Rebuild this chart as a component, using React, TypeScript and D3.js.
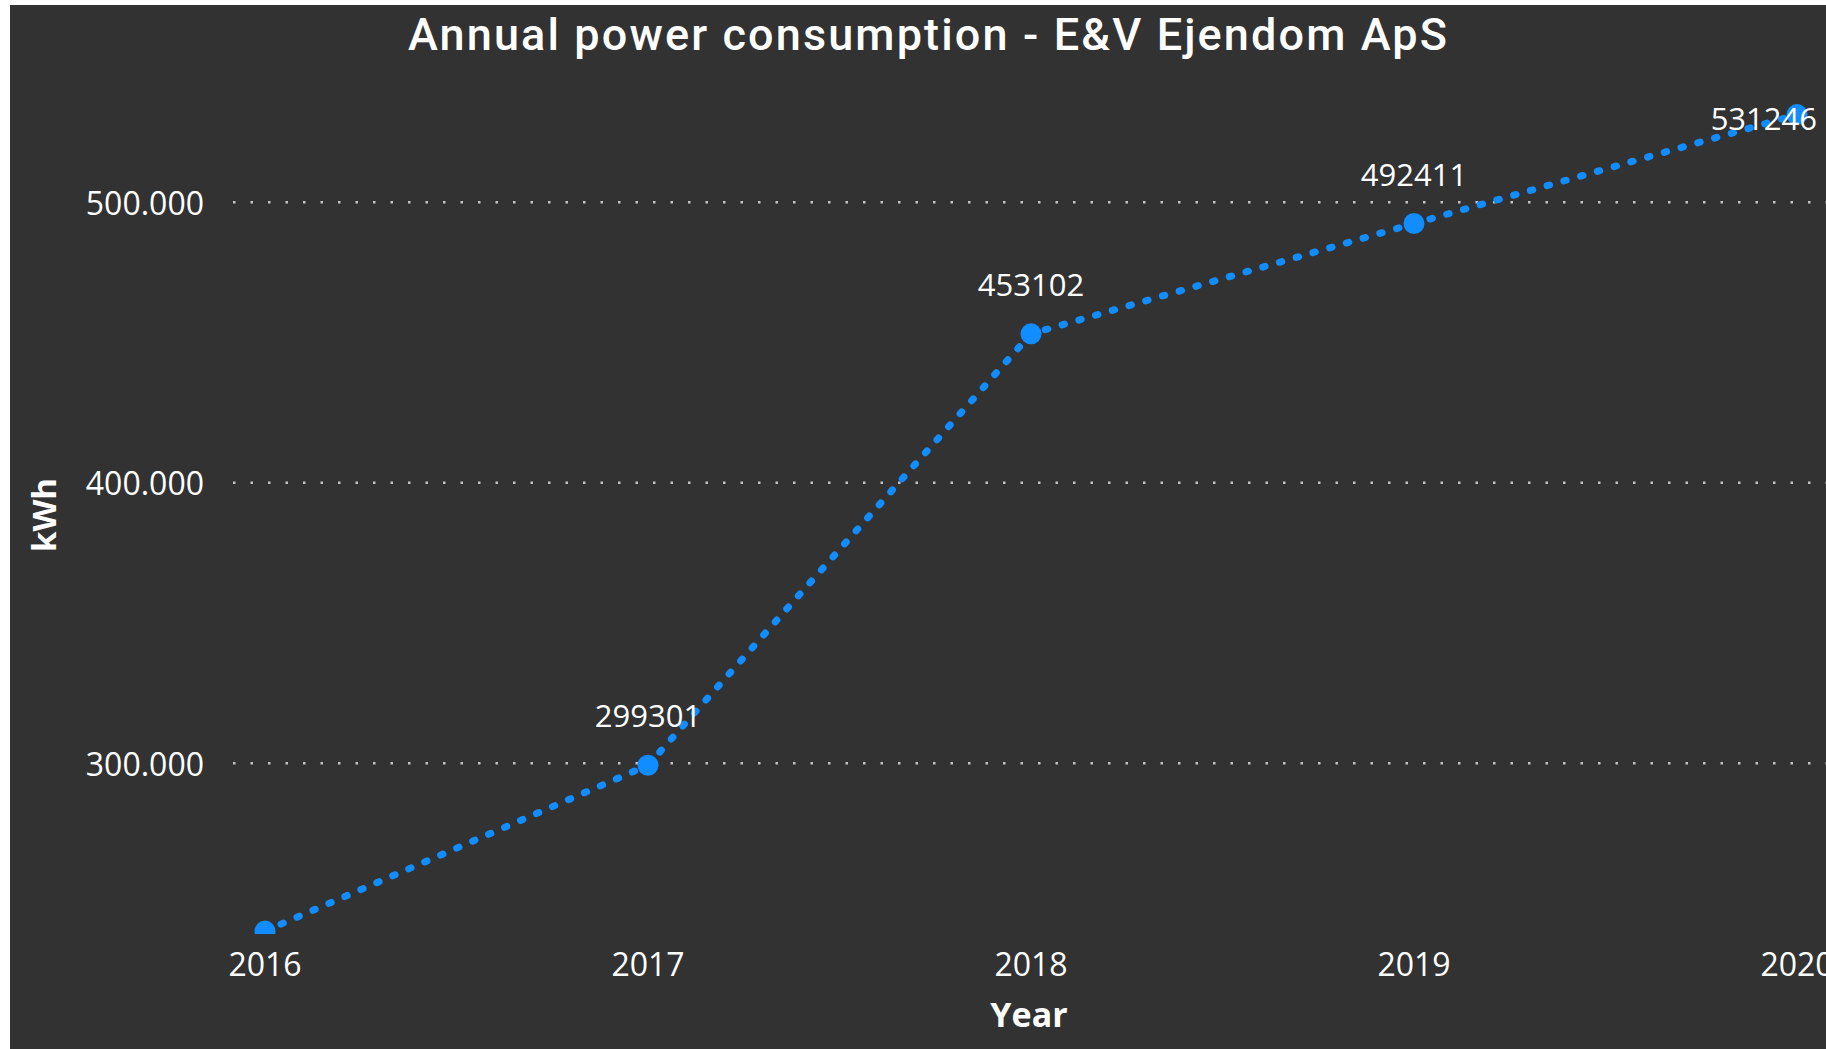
import React from "react";
import * as d3 from "d3";

// values
const years = ["2016", "2017", "2018", "2019", "2020"];
const consumption = [240200, 299301, 453102, 492411, 531246];
const yTicks = [300000, 400000, 500000];

const title = "Annual power consumption - E&V Ejendom ApS";
const xTitle = "Year";
const yTitle = "kWh";

const W = 1826;
const H = 1049;
const plot = { left: 233, right: 1826, top: 62, bottom: 934 };
const blue = "#118DFF";
const bg = "#323232";
const markerR = 10.5;

// danish style thousands separator
const fmt = d3.formatLocale({
  decimal: ",",
  thousands: ".",
  grouping: [3],
  currency: ["", " kr."],
}).format(",");

export default function App() {
  const xScale = d3.scalePoint<string>().domain(years).range([265, 1797]);
  const yScale = d3
    .scaleLinear()
    .domain([239150, 550000])
    .range([plot.bottom, plot.top]);

  const points = years.map((yr, i) => ({ yr, v: consumption[i] }));

  const line = d3
    .line<{ yr: string; v: number }>()
    .x((d) => xScale(d.yr) as number)
    .y((d) => yScale(d.v));

  return (
    <svg
      width={W}
      height={H}
      style={{ position: "absolute", left: 0, top: 0, display: "block" }}
    >
      <defs>
        <clipPath id="plotClip">
          <rect
            x={plot.left}
            y={plot.top}
            width={plot.right - plot.left}
            height={plot.bottom - plot.top}
          />
        </clipPath>
      </defs>
      <rect x={0} y={0} width={W} height={H} fill="#ffffff" />
      <rect x={10} y={5} width={W - 10} height={H - 5} fill={bg} />

      <text
        x={408}
        y={50}
        textLength={1039}
        lengthAdjust="spacing"
        style={{
          fontFamily: "Roboto, 'Open Sans', sans-serif",
          fontWeight: 500,
          fontSize: 45,
          fill: "#ffffff",
        }}
      >
        {title}
      </text>

      {/* gridlines + y tick labels */}
      {yTicks.map((t) => (
        <g key={t}>
          <line
            x1={plot.left}
            x2={plot.right}
            y1={yScale(t)}
            y2={yScale(t)}
            stroke="#c4c4c4"
            strokeWidth={2.5}
            strokeDasharray="2.5 15"
          />
          <text
            x={204}
            y={yScale(t)}
            textAnchor="end"
            dominantBaseline="central"
            style={{
              fontFamily: "'Open Sans', sans-serif",
              fontSize: 32,
              fill: "#ffffff",
            }}
          >
            {fmt(t)}
          </text>
        </g>
      ))}

      {/* x tick labels */}
      {years.map((yr) => (
        <text
          key={yr}
          x={xScale(yr)}
          y={976}
          textAnchor="middle"
          style={{
            fontFamily: "'Open Sans', sans-serif",
            fontSize: 32,
            fill: "#ffffff",
          }}
        >
          {yr}
        </text>
      ))}

      <text
        x={1029}
        y={1027}
        textAnchor="middle"
        style={{
          fontFamily: "'Open Sans', sans-serif",
          fontWeight: 700,
          fontSize: 34,
          fill: "#ffffff",
        }}
      >
        {xTitle}
      </text>
      <text
        transform={`translate(56, 515) rotate(-90)`}
        textAnchor="middle"
        style={{
          fontFamily: "'Open Sans', sans-serif",
          fontWeight: 700,
          fontSize: 33,
          fill: "#ffffff",
        }}
      >
        {yTitle}
      </text>

      <g clipPath="url(#plotClip)">
        <path
          d={line(points) ?? ""}
          fill="none"
          stroke={blue}
          strokeWidth={7}
          strokeLinecap="round"
          strokeDasharray="2.5 14.9"
        />
        {points.map((p) => (
          <circle
            key={p.yr}
            cx={xScale(p.yr)}
            cy={yScale(p.v)}
            r={markerR}
            fill={blue}
          />
        ))}
      </g>

      {/* data labels, hidden when the point sits on the plot edge */}
      {points.map((p) => {
        const cx = xScale(p.yr) as number;
        const cy = yScale(p.v);
        if (cy > plot.bottom - markerR) return null;
        const above = cy - 50 > plot.top + 40;
        const labelY = above ? cy - 50 : cy + 3;
        const anchorEnd = cx + 56 > 1817;
        return (
          <text
            key={p.yr}
            x={anchorEnd ? 1817 : cx}
            y={labelY}
            textAnchor={anchorEnd ? "end" : "middle"}
            dominantBaseline="central"
            style={{
              fontFamily: "'Open Sans', sans-serif",
              fontSize: 31,
              fill: "#ffffff",
            }}
          >
            {String(p.v)}
          </text>
        );
      })}
    </svg>
  );
}
